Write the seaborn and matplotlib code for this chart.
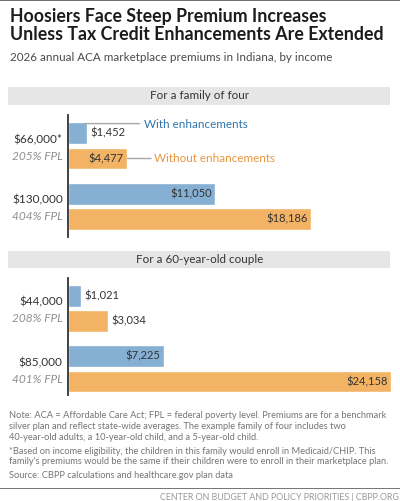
import matplotlib
matplotlib.use("Agg")
import matplotlib.pyplot as plt
import pandas as pd
import seaborn as sns
from matplotlib.patches import Rectangle

sns.set_style("white")
plt.rcParams["font.family"] = ["Lato", "DejaVu Sans"]

series_names = ["With enhancements", "Without enhancements"]

family_incomes = ["$66,000*", "$130,000"]
family_fpl = ["205% FPL", "404% FPL"]
family_with = [1452, 11050]
family_without = [4477, 18186]

couple_incomes = ["$44,000", "$85,000"]
couple_fpl = ["208% FPL", "401% FPL"]
couple_with = [1021, 7225]
couple_without = [3034, 24158]

BLUE = "#85afd3"
ORANGE = "#f3b365"
BLUE_TEXT = "#2f75ad"
ORANGE_TEXT = "#e8963c"
DARK = "#333333"
GREY = "#8f8f8f"
W, H = 400, 501
LABEL_SIZE = 8.4
VALUE_SIZE = 8.0


def make_df(incomes, with_vals, without_vals):
    rows = []
    for inc, a, b in zip(incomes, with_vals, without_vals):
        rows.append({"income": inc, "series": series_names[0], "premium": a})
        rows.append({"income": inc, "series": series_names[1], "premium": b})
    return pd.DataFrame(rows)


def px_axes(x0, y0, x1, y1):
    # axes placed by pixel box, y counted from the top
    return fig.add_axes([x0 / W, 1 - y1 / H, (x1 - x0) / W, (y1 - y0) / H])


def draw_panel(ax, incomes, fpl, with_vals, without_vals, ylim, inside):
    df = make_df(incomes, with_vals, without_vals)
    sns.barplot(data=df, y="income", x="premium", hue="series", ax=ax, orient="h",
                palette=[BLUE, ORANGE], width=0.84, gap=0.15, legend=False, saturation=1)
    ax.set_xlim(0, 24250)
    ax.set_ylim(*ylim)
    ax.set_xlabel("")
    ax.set_ylabel("")
    ax.set_xticks([])
    ax.set_yticks([])
    sns.despine(ax=ax, left=False, right=True, top=True, bottom=True)
    ax.spines["left"].set_color(DARK)
    ax.spines["left"].set_linewidth(1.3)
    ax.patch.set_alpha(0)

    for i, (inc, f) in enumerate(zip(incomes, fpl)):
        ax.annotate(inc, (0, i), xytext=(-3.5, 4.5), textcoords="offset points", ha="right",
                    va="center", fontsize=8.5, color=DARK, annotation_clip=False)
        ax.annotate(f, (0, i), xytext=(-3.5, -7.3), textcoords="offset points", ha="right",
                    va="center", fontsize=8.6, color=GREY, style="italic", annotation_clip=False)
        for j, val in enumerate((with_vals[i], without_vals[i])):
            ypos = i + (j - 0.5) * 0.42
            label = f"${val:,}"
            if inside[i][j]:
                ax.annotate(label, (val, ypos), xytext=(-2.5, 0), textcoords="offset points",
                            ha="right", va="center", fontsize=VALUE_SIZE, color=DARK)
            else:
                ax.annotate(label, (val, ypos), xytext=(2.5, 0), textcoords="offset points",
                            ha="left", va="center", fontsize=VALUE_SIZE, color=DARK)


fig = plt.figure(figsize=(W / 100, H / 100), dpi=100)

# top rule, header bands and footer rule
fig.add_artist(Rectangle((0, 1 - 1.2 / H), 1, 1.2 / H, color="#6e6e6e", lw=0))
fig.add_artist(Rectangle((8 / W, 1 - 104.5 / H), 382 / W, 18 / H, color="#e6e6e6", lw=0))
fig.add_artist(Rectangle((8 / W, 1 - 268 / H), 382 / W, 17.5 / H, color="#e6e6e6", lw=0))
fig.add_artist(Rectangle((0, 1 - 489 / H), 1, 1 / H, color="#777777", lw=0))

ax1 = px_axes(67.5, 115, 392, 237)
draw_panel(ax1, family_incomes, family_fpl, family_with, family_without, (1.504, -0.512),
           [[False, True], [True, True]])
ax2 = px_axes(67.5, 278, 392, 395)
draw_panel(ax2, couple_incomes, couple_fpl, couple_with, couple_without, (1.43, -0.504),
           [[False, False], [True, True]])

# series labels with their leader lines
fig.text(144 / W, 1 - 124 / H, series_names[0], color=BLUE_TEXT, fontsize=LABEL_SIZE, va="center")
fig.text(154 / W, 1 - 158.5 / H, series_names[1], color=ORANGE_TEXT, fontsize=LABEL_SIZE, va="center")
ax1.annotate("", (family_with[0] * 0.85, -0.37), xytext=(40, 0), textcoords="offset points",
             arrowprops=dict(arrowstyle="-", color="#a8a8a8", lw=1, shrinkA=0, shrinkB=0))
ax1.annotate("", (family_without[0], 0.207), xytext=(17, 0), textcoords="offset points",
             arrowprops=dict(arrowstyle="-", color="#a8a8a8", lw=1, shrinkA=0, shrinkB=0))

# titles
fig.text(10 / W, 1 - 16.5 / H, "Hoosiers Face Steep Premium Increases", fontsize=12.8, weight="bold",
         color="#1c1c1c", va="center")
fig.text(10 / W, 1 - 34.5 / H, "Unless Tax Credit Enhancements Are Extended", fontsize=12.8, weight="bold",
         color="#1c1c1c", va="center")
fig.text(9.5 / W, 1 - 57.5 / H, "2026 annual ACA marketplace premiums in Indiana, by income",
         fontsize=8.4, color="#4a4a4a", va="center")
fig.text(200 / W, 1 - 95.5 / H, "For a family of four", fontsize=8.4, color=DARK, ha="center", va="center")
fig.text(200 / W, 1 - 259.5 / H, "For a 60-year-old couple", fontsize=8.4, color=DARK, ha="center", va="center")

# notes
note_lines = [
    (415.5, "Note: ACA = Affordable Care Act; FPL = federal poverty level. Premiums are for a benchmark"),
    (426.5, "silver plan and reflect state-wide averages. The example family of four includes two"),
    (437.5, "40-year-old adults, a 10-year-old child, and a 5-year-old child."),
    (451, "*Based on income eligibility, the children in this family would enroll in Medicaid/CHIP. This"),
    (462, "family's premiums would be the same if their children were to enroll in their marketplace plan."),
    (476, "Source: CBPP calculations and healthcare.gov plan data"),
]
for y, line in note_lines:
    fig.text(9 / W, 1 - y / H, line, fontsize=6.7, color="#757575", va="center")
fig.text(399 / W, 1 - 497 / H, "CENTER ON BUDGET AND POLICY PRIORITIES | CBPP.ORG", fontsize=6.4,
         color="#9a9a9a", ha="right", va="center")

fig.savefig("out.png", dpi=100)
